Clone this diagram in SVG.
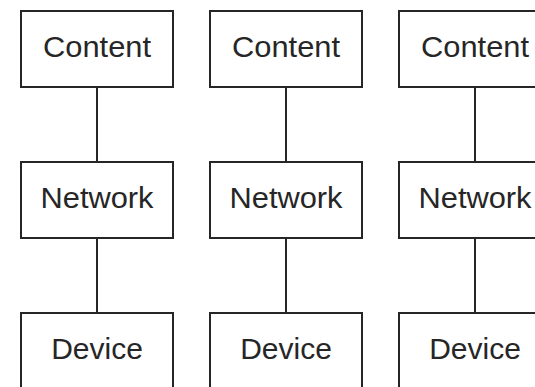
<svg xmlns="http://www.w3.org/2000/svg" width="535" height="387" viewBox="0 0 535 387">
<style>
.box{fill:#fff;stroke:#262626;stroke-width:2}
.lbl{font-family:"Liberation Sans",Arial,sans-serif;font-size:30px;fill:#262626;text-anchor:middle}
.conn{stroke:#262626;stroke-width:2;fill:none}
</style>
<rect width="535" height="387" fill="#fff"/>
<g id="connectors">
<line class="conn" x1="97" y1="87" x2="97" y2="162"/>
<line class="conn" x1="97" y1="238" x2="97" y2="313"/>
<line class="conn" x1="286" y1="87" x2="286" y2="162"/>
<line class="conn" x1="286" y1="238" x2="286" y2="313"/>
<line class="conn" x1="475" y1="87" x2="475" y2="162"/>
<line class="conn" x1="475" y1="238" x2="475" y2="313"/>
</g>
<g id="content1"><rect class="box" x="21" y="11" width="152" height="76"/><text class="lbl" x="97" y="57" textLength="108" lengthAdjust="spacingAndGlyphs">Content</text></g>
<g id="network1"><rect class="box" x="21" y="162" width="152" height="76"/><text class="lbl" x="97" y="208" textLength="113" lengthAdjust="spacingAndGlyphs">Network</text></g>
<g id="device1"><rect class="box" x="21" y="313" width="152" height="76"/><text class="lbl" x="97" y="359">Device</text></g>
<g id="content2"><rect class="box" x="210" y="11" width="152" height="76"/><text class="lbl" x="286" y="57" textLength="108" lengthAdjust="spacingAndGlyphs">Content</text></g>
<g id="network2"><rect class="box" x="210" y="162" width="152" height="76"/><text class="lbl" x="286" y="208" textLength="113" lengthAdjust="spacingAndGlyphs">Network</text></g>
<g id="device2"><rect class="box" x="210" y="313" width="152" height="76"/><text class="lbl" x="286" y="359">Device</text></g>
<g id="content3"><rect class="box" x="399" y="11" width="152" height="76"/><text class="lbl" x="475" y="57" textLength="108" lengthAdjust="spacingAndGlyphs">Content</text></g>
<g id="network3"><rect class="box" x="399" y="162" width="152" height="76"/><text class="lbl" x="475" y="208" textLength="113" lengthAdjust="spacingAndGlyphs">Network</text></g>
<g id="device3"><rect class="box" x="399" y="313" width="152" height="76"/><text class="lbl" x="475" y="359">Device</text></g>
</svg>
